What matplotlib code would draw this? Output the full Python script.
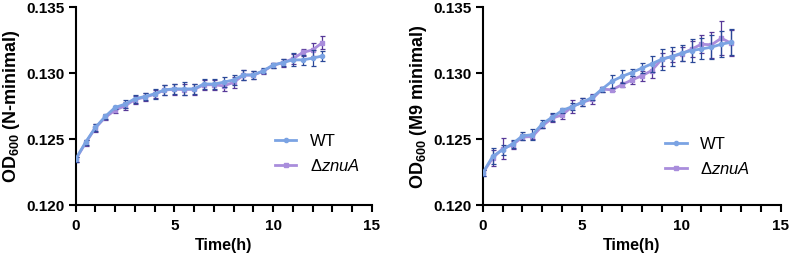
import numpy as np
import matplotlib
matplotlib.use("Agg")
import matplotlib.pyplot as plt
from matplotlib.ticker import MultipleLocator, FixedLocator

plt.rcParams['font.family'] = ['Liberation Sans', 'DejaVu Sans']
plt.rcParams['mathtext.fontset'] = 'custom'
plt.rcParams['mathtext.rm'] = 'Liberation Sans'
plt.rcParams['mathtext.it'] = 'Liberation Sans:italic'
plt.rcParams['mathtext.bf'] = 'Liberation Sans:bold'

time_h = [0, 0.5, 1, 1.5, 2, 2.5, 3, 3.5, 4, 4.5, 5, 5.5, 6, 6.5, 7, 7.5, 8,
          8.5, 9, 9.5, 10, 10.5, 11, 11.5, 12, 12.5]

# N-minimal
n_wt = [0.12348, 0.12475, 0.12588, 0.12672, 0.12740, 0.12765, 0.12806, 0.12823,
        0.12843, 0.12874, 0.12881, 0.12881, 0.12881, 0.12919, 0.12917, 0.12932,
        0.12949, 0.12987, 0.12987, 0.13018, 0.13061, 0.13081, 0.13101, 0.13101,
        0.13114, 0.13131]
n_wt_err = [0.0002, 0.0002, 0.0003, 0.0002, 0.0001, 0.0003, 0.0003, 0.0003,
            0.0004, 0.0004, 0.0004, 0.0005, 0.0004, 0.0004, 0.0004, 0.0004,
            0.0004, 0.0004, 0.0003, 0.0002, 0.0002, 0.0003, 0.0005, 0.0004,
            0.0006, 0.0004]
n_ko = [0.12345, 0.12470, 0.12585, 0.12665, 0.12720, 0.12752, 0.12800, 0.12818,
        0.12840, 0.12872, 0.12878, 0.12876, 0.12878, 0.12912, 0.12912, 0.12904,
        0.12930, 0.12985, 0.12985, 0.13015, 0.13060, 0.13080, 0.13109, 0.13157,
        0.13177, 0.13232]
n_ko_err = [0.0002, 0.0002, 0.0003, 0.0002, 0.0002, 0.0003, 0.0003, 0.0003,
            0.0003, 0.0004, 0.0004, 0.0004, 0.0004, 0.0004, 0.0004, 0.0004,
            0.0004, 0.0004, 0.0003, 0.0002, 0.0002, 0.0003, 0.0004, 0.0003,
            0.0005, 0.0005]

# M9 minimal
m_wt = [0.12242, 0.12369, 0.12419, 0.12465, 0.12525, 0.12533, 0.12616, 0.12667,
        0.12717, 0.12747, 0.12778, 0.12816, 0.12879, 0.12939, 0.12975, 0.13005,
        0.13038, 0.13071, 0.13106, 0.13126, 0.13152, 0.13172, 0.13184, 0.13197,
        0.13220, 0.13235]
m_wt_err = [0.0002, 0.0006, 0.0004, 0.0003, 0.0003, 0.0004, 0.0003, 0.0003,
            0.0002, 0.0003, 0.0003, 0.0002, 0.0002, 0.0005, 0.0005, 0.0003,
            0.0004, 0.0006, 0.0008, 0.0007, 0.0006, 0.0009, 0.0008, 0.0009,
            0.0010, 0.0010]
m_ko = [0.12242, 0.12356, 0.12427, 0.12457, 0.12515, 0.12520, 0.12601, 0.12659,
        0.12684, 0.12747, 0.12778, 0.12803, 0.12879, 0.12874, 0.12912, 0.12949,
        0.12980, 0.13020, 0.13106, 0.13126, 0.13146, 0.13182, 0.13220, 0.13215,
        0.13265, 0.13227]
m_ko_err = [0.0002, 0.0006, 0.0008, 0.0003, 0.0002, 0.0002, 0.0002, 0.0003,
            0.0003, 0.0005, 0.0003, 0.0004, 0.0002, 0.0001, 0.0002, 0.0003,
            0.0004, 0.0006, 0.0005, 0.0004, 0.0005, 0.0006, 0.0007, 0.0010,
            0.0013, 0.0010]

labels = ['WT', r'$\Delta$$\it{znuA}$']
ylabels = [r'OD$_{\mathbf{600}}$ (N-minimal)', r'OD$_{\mathbf{600}}$ (M9 minimal)']
yticks = [0.120, 0.125, 0.130, 0.135]
ytick_labels = ['0.120', '0.125', '0.130', '0.135']
xticks = [0, 5, 10, 15]

WT_LINE = '#7ba3e3'
KO_LINE = '#a98ddc'
WT_ERR = '#2a4898'
KO_ERR = '#573898'

fig = plt.figure(figsize=(7.92, 2.6), dpi=100)
ax1 = fig.add_axes([0.0955, 0.2115, 0.3740, 0.7605])
ax2 = fig.add_axes([0.6095, 0.2115, 0.3766, 0.7605])

datasets = [(ax1, n_wt, n_wt_err, n_ko, n_ko_err, ylabels[0], (0.672, 0.36)),
            (ax2, m_wt, m_wt_err, m_ko, m_ko_err, ylabels[1], (0.611, 0.345))]

for ax, wt, wte, ko, koe, ylab, legpos in datasets:
    c_ko = ax.errorbar(time_h, ko, yerr=koe, color=KO_LINE, ecolor=KO_ERR, lw=2,
                       elinewidth=0.9, capsize=1.8, capthick=0.9, marker='s', ms=3,
                       zorder=2)
    c_wt = ax.errorbar(time_h, wt, yerr=wte, color=WT_LINE, ecolor=WT_ERR, lw=2,
                       elinewidth=0.9, capsize=1.8, capthick=0.9, marker='o', ms=3,
                       zorder=3)
    ax.set_xlim(0, 15)
    ax.set_ylim(0.120, 0.135)
    ax.xaxis.set_major_locator(FixedLocator(xticks))
    ax.xaxis.set_minor_locator(MultipleLocator(1))
    ax.yaxis.set_major_locator(FixedLocator(yticks))
    ax.set_yticklabels(ytick_labels)
    for s in ['top', 'right']:
        ax.spines[s].set_visible(False)
    for s in ['left', 'bottom']:
        ax.spines[s].set_linewidth(1.5)
    ax.tick_params(axis='both', which='both', direction='out', length=5,
                   width=1.5, labelsize=11, pad=3)
    ax.tick_params(axis='x', which='both', pad=5)
    for lab in ax.get_xticklabels() + ax.get_yticklabels():
        lab.set_fontweight('bold')
    ax.set_xlabel('Time(h)', fontsize=11.5, fontweight='bold', labelpad=4)
    ax.set_ylabel(ylab, fontsize=13, fontweight='bold', labelpad=3)
    ax.legend([c_wt[0], c_ko[0]], labels, loc='upper left', bbox_to_anchor=legpos,
              frameon=False, fontsize=12, borderpad=0, borderaxespad=0,
              handlelength=1.3, handletextpad=0.8, labelspacing=0.55,
              numpoints=1)

fig.savefig('out.png', dpi=100)
